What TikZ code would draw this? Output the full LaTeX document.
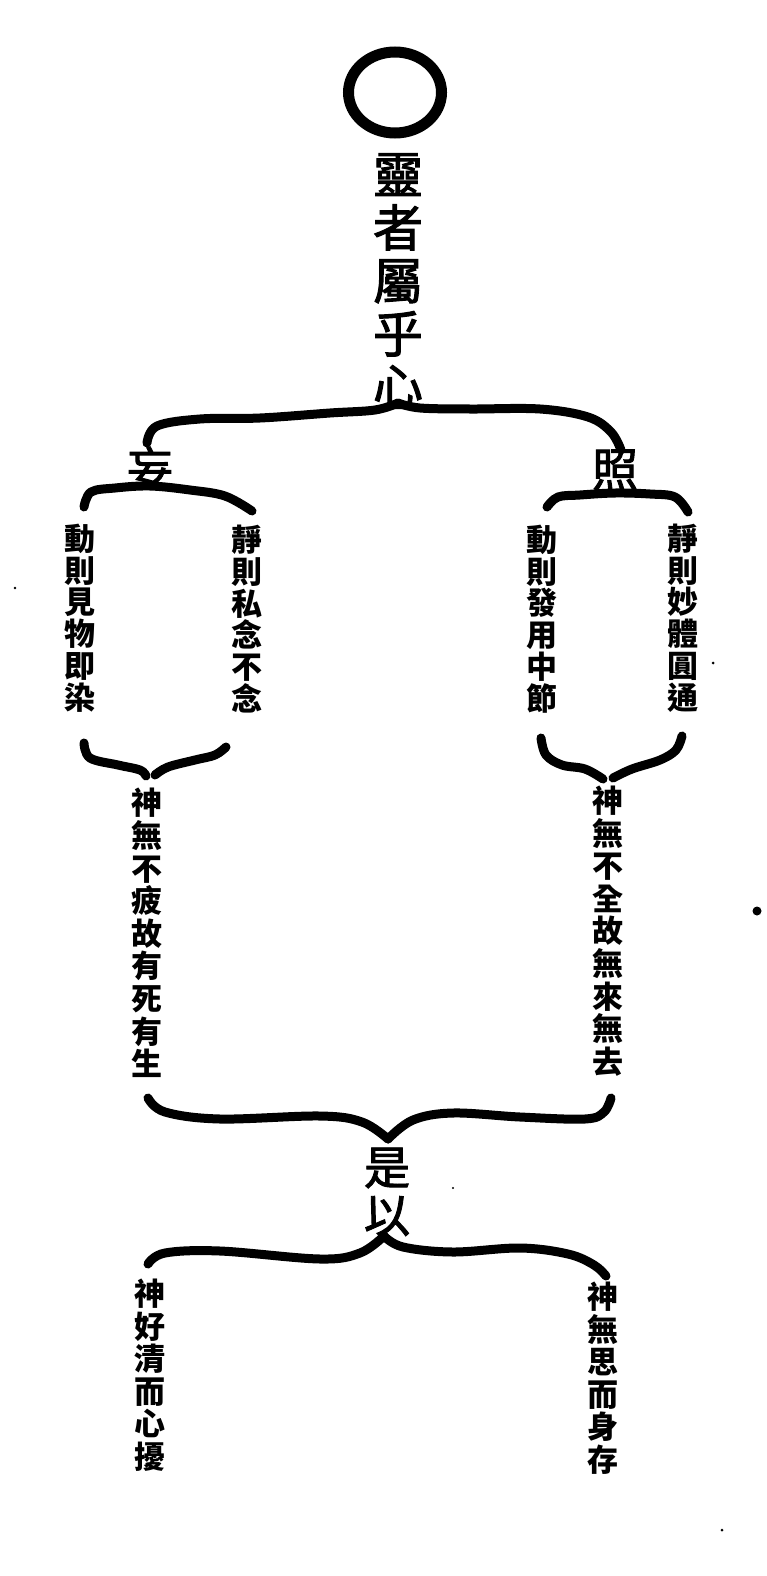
\documentclass[tikz,border=0pt]{standalone}
\usepackage{fontspec}
\newfontfamily\cjk[FakeBold=2]{Noto Sans CJK TC}
\newfontfamily\cjkb{Noto Sans CJK TC}
\usetikzlibrary{shapes.geometric}
\begin{document}
\begin{tikzpicture}[x=1pt,y=-1pt,
  bigcol/.style={font=\cjk\fontsize{50}{53}\selectfont, inner sep=0pt, align=center},
  midchar/.style={font=\cjk\fontsize{46}{48}\selectfont, inner sep=0pt, align=center},
  smallcol/.style={font=\cjkb\bfseries\fontsize{31}{31.7}\selectfont, inner sep=0pt, align=center},
  longcol/.style={font=\cjkb\bfseries\fontsize{31}{32.6}\selectfont, inner sep=0pt, align=center},
  lastcol/.style={font=\cjkb\bfseries\fontsize{31}{32.5}\selectfont, inner sep=0pt, align=center},
  brace/.style={line width=9pt, line cap=round, line join=round},
  speck/.style={fill=black}]
\fill[white] (0,0) rectangle (766,1576);
\useasboundingbox (0,0) rectangle (766,1576);

% ring
\node[draw, ellipse, line width=11pt, minimum width=93pt, minimum height=81pt, inner sep=0pt] (ring) at (395,92.5) {};

% texts
\node[bigcol] (top) at (398,281) {靈\\者\\屬\\乎\\心};
\node[midchar] (wang) at (150,468) {妄};
\node[midchar] (zhao) at (615,470) {照};
\node[smallcol] (c1) at (80,618) {動\\則\\見\\物\\即\\染};
\node[smallcol] (c2) at (247,619) {靜\\則\\私\\念\\不\\念};
\node[smallcol] (c3) at (542,619) {動\\則\\發\\用\\中\\節};
\node[smallcol] (c4) at (683,618) {靜\\則\\妙\\體\\圓\\通};
\node[longcol] (c5) at (147,933) {神\\無\\不\\疲\\故\\有\\死\\有\\生};
\node[longcol] (c6) at (608,931) {神\\無\\不\\全\\故\\無\\來\\無\\去};
\node[bigcol, font=\cjk\fontsize{46}{48}\selectfont] (shiyi) at (387,1192) {是\\以};
\node[lastcol] (c7) at (150,1375) {神\\好\\清\\而\\心\\擾};
\node[lastcol] (c8) at (603,1378) {神\\無\\思\\而\\身\\存};

% top brace
\draw[brace] plot[smooth, tension=0.6] coordinates {(147,443) (157,426) (200,419) (260,418) (330,413) (375,410) (398,403)};
\draw[brace] plot[smooth, tension=0.6] coordinates {(398,403) (420,408) (470,409) (540,409) (588,417) (611,432) (621,450)};
% wang brace
\draw[brace] plot[smooth, tension=0.6] coordinates {(84,507) (91,492) (115,488) (150,486) (190,490) (225,496) (252,511)};
% zhao brace
\draw[brace] plot[smooth, tension=0.6] coordinates {(547,507) (558,497) (580,495) (615,493) (650,494) (675,497) (688,512)};
% lower left pair brace
\draw[brace] plot[smooth, tension=0.6] coordinates {(84,743) (90,758) (118,765) (140,770) (146,776)};
\draw[brace] plot[smooth, tension=0.6] coordinates {(155,775) (168,767) (195,760) (215,755) (226,747)};
% lower right pair brace
\draw[brace] plot[smooth, tension=0.6] coordinates {(541,738) (546,755) (562,765) (585,769) (603,779)};
\draw[brace] plot[smooth, tension=0.6] coordinates {(613,778) (632,769) (660,760) (676,750) (682,736)};
% big brace
\draw[brace] plot[smooth, tension=0.6] coordinates {(148,1098) (165,1112) (220,1119) (320,1116) (362,1122) (388,1139)};
\draw[brace] plot[smooth, tension=0.6] coordinates {(388,1139) (413,1120) (453,1113) (520,1117) (585,1119) (604,1112) (611,1098)};
% bottom brace
\draw[brace] plot[smooth, tension=0.6] coordinates {(148,1264) (165,1253) (220,1251) (320,1259) (360,1253) (384,1236)};
\draw[brace] plot[smooth, tension=0.6] coordinates {(384,1236) (403,1247) (453,1252) (520,1248) (568,1254) (594,1265) (606,1276)};

% specks
\fill[speck] (757,911) circle (4.5);
\fill[speck] (15,588) circle (1.3);
\fill[speck] (713,663) circle (1.5);
\fill[speck] (722,1530) circle (1.5);
\fill[speck] (453,1188) circle (1.2);
\end{tikzpicture}
\end{document}
